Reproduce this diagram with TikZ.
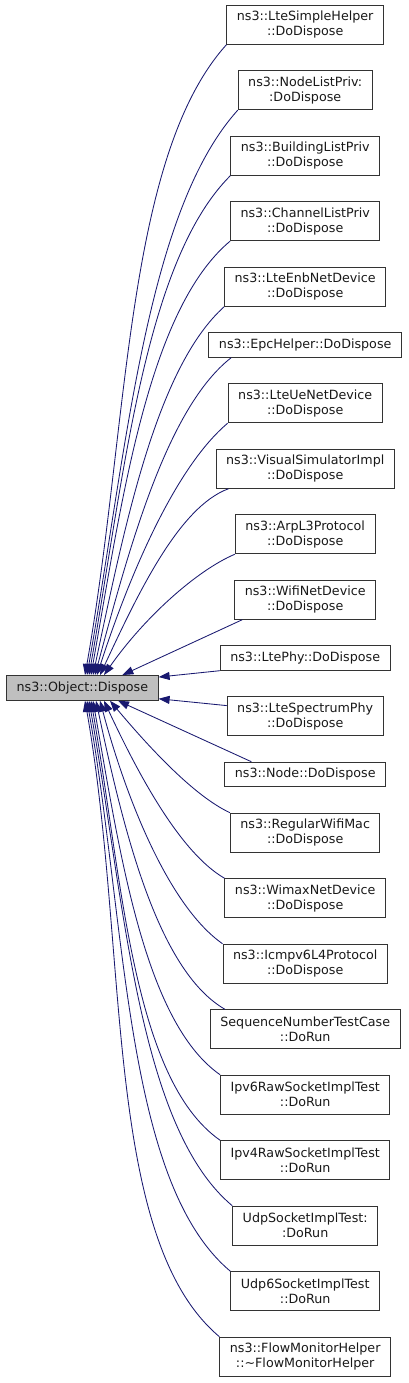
\documentclass[tikz,border=0pt]{standalone}
\usepackage{fontspec}
\setmainfont{DejaVu Sans}
\usepackage{xcolor}
\usepackage{tikz}
\usetikzlibrary{arrows.meta,positioning}
\definecolor{edgeblue}{RGB}{25,25,112}
\tikzset{
  >={Triangle[length=11pt,width=8pt]},
  fn/.style={draw=black!80, line width=1pt, align=center, inner xsep=10pt, inner ysep=2pt,
    minimum height=39pt, font=\fontsize{12.7}{15}\selectfont, text=black!90},
  fnline/.style={fn, minimum height=24.5pt},
  cur/.style={fn, fill=black!25, minimum height=24.7pt},
  call/.style={->, draw=edgeblue, line width=0.85pt, out looseness=0.6},
}

\begin{document}
\begin{tikzpicture}[x=1pt, y=1pt, node distance=25.5pt]
  \useasboundingbox (0,0) rectangle (408,-1383);

  \node[cur] (obj) at (82.4,-687.9) {ns3::Object::Dispose};

  \node[fn] (lsh) at (305.2,-24.7) {ns3::LteSimpleHelper\\::DoDispose};
  \node[fn, below=of lsh] (nlp) {ns3::NodeListPriv:\\:DoDispose};
  \node[fn, below=of nlp] (blp) {ns3::BuildingListPriv\\::DoDispose};
  \node[fn, below=of blp] (clp) {ns3::ChannelListPriv\\::DoDispose};
  \node[fn, below=of clp] (enb) {ns3::LteEnbNetDevice\\::DoDispose};
  \node[fnline, below=of enb] (epc) {ns3::EpcHelper::DoDispose};
  \node[fn, below=of epc] (ue) {ns3::LteUeNetDevice\\::DoDispose};
  \node[fn, below=of ue] (vsi) {ns3::VisualSimulatorImpl\\::DoDispose};
  \node[fn, below=of vsi] (arp) {ns3::ArpL3Protocol\\::DoDispose};
  \node[fn, below=of arp] (wifi) {ns3::WifiNetDevice\\::DoDispose};
  \node[fnline, below=of wifi] (phy) {ns3::LtePhy::DoDispose};
  \node[fn, below=of phy] (sphy) {ns3::LteSpectrumPhy\\::DoDispose};
  \node[fnline, below=of sphy] (nd) {ns3::Node::DoDispose};
  \node[fn, below=of nd] (rwm) {ns3::RegularWifiMac\\::DoDispose};
  \node[fn, below=of rwm] (wimax) {ns3::WimaxNetDevice\\::DoDispose};
  \node[fn, below=of wimax] (icmp) {ns3::Icmpv6L4Protocol\\::DoDispose};
  \node[fn, below=of icmp] (snt) {SequenceNumberTestCase\\::DoRun};
  \node[fn, below=of snt] (ip6) {Ipv6RawSocketImplTest\\::DoRun};
  \node[fn, below=of ip6] (ip4) {Ipv4RawSocketImplTest\\::DoRun};
  \node[fn, below=of ip4] (udp) {UdpSocketImplTest:\\:DoRun};
  \node[fn, below=of udp] (udp6) {Udp6SocketImplTest\\::DoRun};
  \node[fn, below=of udp6] (fmh) {ns3::FlowMonitorHelper\\::\textasciitilde FlowMonitorHelper};

  \draw[call] (lsh.south west) to[out=228, in=80] ([xshift=2.6pt]obj.north);
  \draw[call] (nlp.south west) to[out=228, in=80] ([xshift=4.6pt]obj.north);
  \draw[call] (blp.south west) to[out=225, in=80] ([xshift=6.6pt]obj.north);
  \draw[call] (clp.south west) to[out=220, in=80] ([xshift=8.6pt]obj.north);
  \draw[call] (enb.south west) to[out=222, in=78] ([xshift=10.6pt]obj.north);
  \draw[call] ([xshift=22.7pt]epc.south west) to[out=218, in=75] ([xshift=12.6pt]obj.north);
  \draw[call] (ue.south west) to[out=220, in=72] ([xshift=14.6pt]obj.north);
  \draw[call] ([xshift=13pt]vsi.south west) to[out=200, in=65] ([xshift=17.6pt]obj.north);
  \draw[call] (arp.south west) to[out=203, in=55] ([xshift=21.6pt]obj.north);
  \draw[call] ([xshift=8pt]wifi.south west) -- ([xshift=40pt]obj.north);
  \draw[call] (phy.south west) -- ([yshift=-2pt]obj.north east);
  \draw[call] ([yshift=-9.4pt]sphy.north west) -- ([yshift=2pt]obj.south east);
  \draw[call] ([xshift=27pt]nd.north west) -- ([xshift=35.6pt]obj.south);
  \draw[call] (rwm.north west) to[out=155, in=310] ([xshift=27.6pt]obj.south);
  \draw[call] (wimax.north west) to[out=150, in=295] ([xshift=21.6pt]obj.south);
  \draw[call] (icmp.north west) to[out=145, in=285] ([xshift=17.6pt]obj.south);
  \draw[call] ([xshift=15pt]snt.north west) to[out=150, in=282] ([xshift=13.6pt]obj.south);
  \draw[call] (ip6.north west) to[out=145, in=280] ([xshift=10.6pt]obj.south);
  \draw[call] (ip4.north west) to[out=145, in=280] ([xshift=8.6pt]obj.south);
  \draw[call] (udp.north west) to[out=140, in=280] ([xshift=6.6pt]obj.south);
  \draw[call] (udp6.north west) to[out=140, in=280] ([xshift=4.6pt]obj.south);
  \draw[call] (fmh.north west) to[out=140, in=280] ([xshift=2.6pt]obj.south);
\end{tikzpicture}
\end{document}
